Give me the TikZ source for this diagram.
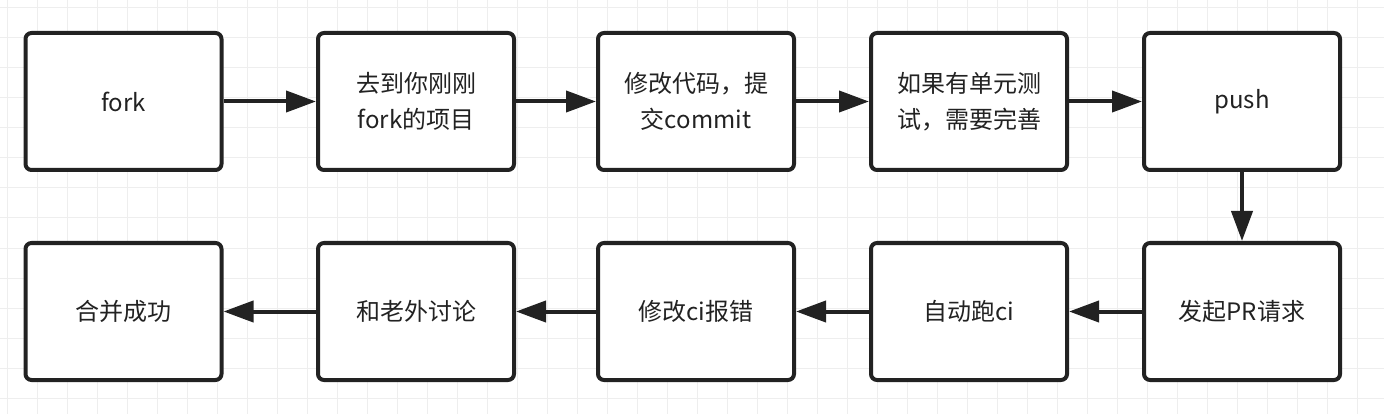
\documentclass[tikz,border=0pt]{standalone}
\usepackage{fontspec}
\setmainfont{Noto Sans CJK SC}
\usetikzlibrary{arrows.meta}
\definecolor{ink}{HTML}{222222}
\definecolor{gridminor}{HTML}{EEEEEE}
\definecolor{gridmajor}{HTML}{E3E3E3}
\tikzset{
  stepbox/.style={draw=ink, line width=4pt, rounded corners=6pt, fill=white,
    minimum width=196pt, minimum height=137pt, inner sep=0pt,
    align=center, text=ink, font=\fontsize{24}{36}\selectfont},
  flow/.style={draw=ink, line width=4pt, -{Triangle[length=30pt,width=21pt]}}
}
\begin{document}
\begin{tikzpicture}[x=1pt,y=-1pt]
\useasboundingbox (0,0) rectangle (1384,414);
\fill[white] (0,0) rectangle (1384,414);
\foreach \i in {0,...,46} {
  \draw[gridminor, line width=1pt] ({7+30*\i},0) -- ({7+30*\i},414);
}
\foreach \j in {0,...,13} {
  \draw[gridminor, line width=1pt] (0,{8+30*\j}) -- (1384,{8+30*\j});
}
\node[stepbox] (a) at (123.5,101.5) {fork};
\node[stepbox] (b) at (416,101.5) {去到你刚刚\\fork的项目};
\node[stepbox] (c) at (696,101.5) {修改代码，提\\交commit};
\node[stepbox] (d) at (969,101.5) {如果有单元测\\试，需要完善};
\node[stepbox] (e) at (1242,101.5) {push};
\node[stepbox] (f) at (1242,311.5) {发起PR请求};
\node[stepbox] (g) at (969,311.5) {自动跑ci};
\node[stepbox] (h) at (696,311.5) {修改ci报错};
\node[stepbox] (i) at (416,311.5) {和老外讨论};
\node[stepbox] (j) at (123.5,311.5) {合并成功};
\draw[flow] (a.east) -- (b.west);
\draw[flow] (b.east) -- (c.west);
\draw[flow] (c.east) -- (d.west);
\draw[flow] (d.east) -- (e.west);
\draw[flow] (e.south) -- (f.north);
\draw[flow] (f.west) -- (g.east);
\draw[flow] (g.west) -- (h.east);
\draw[flow] (h.west) -- (i.east);
\draw[flow] (i.west) -- (j.east);
\end{tikzpicture}
\end{document}
